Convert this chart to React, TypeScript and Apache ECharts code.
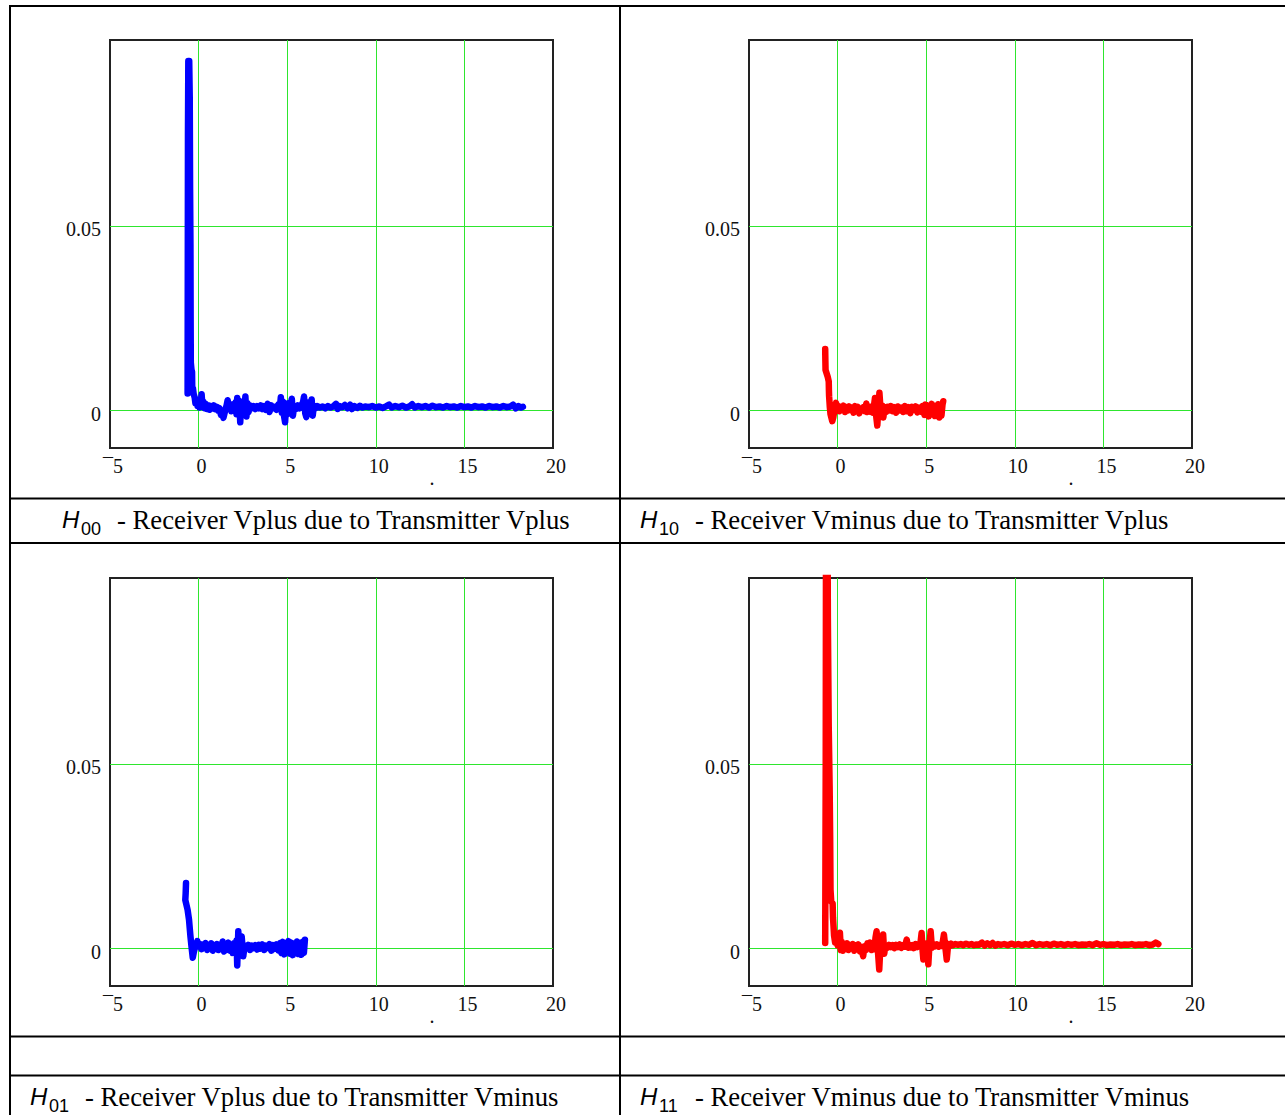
import React, { useEffect, useRef } from 'react';
import * as echarts from 'echarts';

// ---- data (time, amplitude) ----
const h00Points: number[][] = [
  [-0.62, 0.0046], [-0.61, 0.040], [-0.60, 0.075], [-0.58, 0.095], [-0.53, 0.095], [-0.50, 0.085],
  [-0.48, 0.060], [-0.46, 0.045], [-0.45, 0.025], [-0.44, 0.013], [-0.40, 0.011], [-0.37, 0.0105],
  [-0.36, 0.0065], [-0.32, 0.006], [-0.28, 0.0045], [-0.22, 0.0035], [-0.18, 0.0020], [-0.12, 0.0030],
  [-0.06, 0.0012], [0.00, 0.0020], [0.05, 0.0008], [0.12, 0.0018], [0.17, 0.0044], [0.22, 0.0010],
  [0.28, 0.0024], [0.34, 0.0006], [0.40, 0.0018], [0.47, 0.0004], [0.55, 0.0014], [0.62, 0.0002],
  [0.70, 0.0012], [0.78, 0.0006], [0.86, 0.0014], [0.94, 0.0004], [1.02, 0.0010], [1.10, 0.0000],
  [1.18, 0.0006], [1.26, -0.0012], [1.34, -0.0006], [1.40, -0.0020], [1.46, -0.0008], [1.52, 0.0004],
  [1.58, 0.0014], [1.64, 0.0028], [1.70, 0.0004], [1.76, 0.0018], [1.84, -0.0002], [1.92, 0.0016],
  [2.00, 0.0006], [2.08, 0.0022], [2.14, -0.0010], [2.18, 0.0034], [2.24, -0.0004], [2.30, 0.0026],
  [2.35, -0.0032], [2.40, 0.0020], [2.46, -0.0010], [2.52, 0.0016], [2.58, 0.0002], [2.64, 0.0038],
  [2.70, -0.0016], [2.76, 0.0020], [2.82, -0.0004], [2.90, 0.0014], [3.00, 0.0006], [3.10, 0.0012],
  [3.20, 0.0004], [3.30, 0.0012], [3.40, 0.0006], [3.50, 0.0014], [3.60, 0.0004], [3.70, 0.0012],
  [3.80, 0.0002], [3.90, 0.0018], [4.00, -0.0004], [4.10, 0.0014], [4.20, 0.0006], [4.30, 0.0010],
  [4.40, 0.0002], [4.50, 0.0016], [4.58, 0.0004], [4.64, 0.0036], [4.70, -0.0006], [4.76, 0.0024],
  [4.82, -0.0014], [4.88, -0.0032], [4.94, 0.0018], [5.00, -0.0010], [5.06, 0.0020], [5.12, -0.0004],
  [5.20, 0.0016], [5.26, 0.0032], [5.32, -0.0014], [5.40, 0.0012], [5.50, 0.0004], [5.60, 0.0014],
  [5.70, 0.0006], [5.80, 0.0012], [5.90, 0.0024], [5.95, 0.0038], [6.02, -0.0008], [6.08, -0.0018],
  [6.14, 0.0022], [6.20, -0.0004], [6.26, 0.0016], [6.32, 0.0002], [6.38, 0.0030], [6.44, -0.0014],
  [6.50, 0.0012], [6.60, 0.0006], [6.70, 0.0012], [6.85, 0.0008], [7.00, 0.0011], [7.15, 0.0006],
  [7.30, 0.0012], [7.45, 0.0008], [7.60, 0.0011], [7.75, 0.0018], [7.85, 0.0004], [7.95, 0.0012],
  [8.10, 0.0009], [8.25, 0.0015], [8.40, 0.0006], [8.55, 0.0016], [8.65, 0.0004], [8.80, 0.0012],
  [8.95, 0.0007], [9.10, 0.0013], [9.25, 0.0008], [9.40, 0.0011], [9.60, 0.0009], [9.80, 0.0012],
  [10.00, 0.0008], [10.20, 0.0011], [10.40, 0.0007], [10.60, 0.0012], [10.75, 0.0016], [10.90, 0.0008],
  [11.10, 0.0012], [11.30, 0.0009], [11.50, 0.0013], [11.70, 0.0008], [11.90, 0.0011], [12.05, 0.0017],
  [12.20, 0.0008], [12.40, 0.0012], [12.60, 0.0009], [12.80, 0.0012], [13.00, 0.0008], [13.20, 0.0013],
  [13.40, 0.0009], [13.60, 0.0011], [13.80, 0.0008], [14.00, 0.0012], [14.20, 0.0009], [14.40, 0.0011],
  [14.60, 0.0008], [14.80, 0.0012], [15.00, 0.0009], [15.20, 0.0011], [15.40, 0.0008], [15.60, 0.0012],
  [15.80, 0.0009], [16.00, 0.0011], [16.20, 0.0008], [16.40, 0.0012], [16.60, 0.0009], [16.80, 0.0011],
  [17.00, 0.0008], [17.20, 0.0012], [17.40, 0.0009], [17.60, 0.0011], [17.75, 0.0016], [17.90, 0.0006],
  [18.05, 0.0012], [18.20, 0.0008], [18.30, 0.0010],
];

const h10Points: number[][] = [
  [-0.70, 0.0167], [-0.69, 0.0135], [-0.68, 0.0110], [-0.56, 0.0092], [-0.50, 0.0079], [-0.49, 0.0055],
  [-0.48, 0.0039], [-0.44, 0.0010], [-0.40, -0.0010], [-0.30, -0.0029], [-0.24, -0.0018], [-0.15, 0.0010],
  [-0.09, 0.0021], [-0.02, 0.0004], [0.04, 0.0012], [0.10, -0.0002], [0.18, 0.0010], [0.26, 0.0002],
  [0.34, 0.0013], [0.42, -0.0004], [0.50, 0.0009], [0.58, 0.0000], [0.66, 0.0011], [0.74, 0.0002],
  [0.82, 0.0007], [0.90, -0.0006], [0.98, 0.0012], [1.06, -0.0002], [1.14, 0.0010], [1.22, -0.0008],
  [1.30, 0.0006], [1.38, 0.0001], [1.46, 0.0009], [1.54, -0.0002], [1.62, 0.0019], [1.68, -0.0004],
  [1.76, 0.0008], [1.84, -0.0003], [1.92, 0.0011], [2.00, -0.0006], [2.06, 0.0016], [2.11, 0.0034],
  [2.17, -0.0012], [2.24, -0.0041], [2.30, 0.0006], [2.36, 0.0048], [2.44, -0.0008], [2.52, 0.0014],
  [2.58, -0.0019], [2.66, 0.0008], [2.74, -0.0004], [2.82, 0.0010], [2.90, 0.0000], [3.00, 0.0012],
  [3.10, -0.0002], [3.20, 0.0009], [3.30, -0.0006], [3.40, 0.0011], [3.50, 0.0000], [3.60, 0.0008],
  [3.70, -0.0004], [3.80, 0.0012], [3.90, -0.0002], [4.00, 0.0009], [4.10, -0.0007], [4.20, 0.0010],
  [4.30, 0.0002], [4.40, 0.0011], [4.50, -0.0005], [4.60, 0.0008], [4.70, -0.0003], [4.80, 0.0012],
  [4.90, -0.0012], [4.96, 0.0016], [5.02, -0.0008], [5.08, 0.0014], [5.14, -0.0016], [5.20, 0.0010],
  [5.26, -0.0004], [5.32, 0.0018], [5.38, -0.0011], [5.44, 0.0008], [5.50, -0.0015], [5.56, 0.0012],
  [5.62, -0.0006], [5.68, 0.0017], [5.74, -0.0019], [5.80, 0.0014], [5.86, -0.0014], [5.92, 0.0016],
  [5.96, 0.0025],
];

const h01Points: number[][] = [
  [-0.71, 0.0178], [-0.73, 0.0150], [-0.75, 0.0132], [-0.62, 0.0105], [-0.54, 0.0078], [-0.50, 0.0055],
  [-0.46, 0.0033], [-0.40, 0.0005], [-0.33, -0.0025], [-0.27, -0.0010], [-0.20, 0.0003], [-0.12, 0.0012],
  [-0.07, 0.0020], [0.00, 0.0006], [0.08, 0.0012], [0.16, -0.0002], [0.24, 0.0011], [0.32, 0.0003],
  [0.40, 0.0015], [0.48, -0.0004], [0.56, 0.0008], [0.64, 0.0002], [0.72, 0.0014], [0.80, -0.0006],
  [0.88, 0.0010], [0.96, 0.0001], [1.04, 0.0012], [1.12, -0.0004], [1.20, 0.0009], [1.28, 0.0000],
  [1.36, 0.0019], [1.44, -0.0008], [1.52, 0.0011], [1.60, -0.0003], [1.68, 0.0016], [1.76, -0.0006],
  [1.84, 0.0010], [1.92, -0.0012], [2.00, 0.0014], [2.08, -0.0005], [2.14, 0.0022], [2.18, -0.0046],
  [2.24, 0.0047], [2.30, -0.0010], [2.36, 0.0018], [2.43, 0.0033], [2.52, -0.0021], [2.60, 0.0008],
  [2.70, 0.0002], [2.80, 0.0010], [2.90, -0.0004], [3.00, 0.0008], [3.10, 0.0001], [3.20, 0.0009],
  [3.30, -0.0003], [3.40, 0.0010], [3.50, 0.0000], [3.60, 0.0011], [3.70, -0.0004], [3.80, 0.0008],
  [3.90, 0.0002], [4.00, 0.0012], [4.10, -0.0006], [4.20, 0.0009], [4.30, -0.0001], [4.40, 0.0011],
  [4.50, -0.0005], [4.60, 0.0015], [4.68, -0.0012], [4.76, 0.0018], [4.84, -0.0016], [4.92, 0.0012],
  [5.00, -0.0008], [5.08, 0.0020], [5.16, -0.0014], [5.24, 0.0016], [5.32, -0.0018], [5.40, 0.0013],
  [5.48, -0.0010], [5.56, 0.0019], [5.64, -0.0015], [5.72, 0.0014], [5.80, -0.0017], [5.88, 0.0018],
  [5.94, -0.0012], [6.00, 0.0024],
];

const h11Points: number[][] = [
  [-0.70, 0.0015], [-0.67, 0.0500], [-0.65, 0.1300], [-0.58, 0.1300], [-0.55, 0.0900], [-0.50, 0.0600],
  [-0.45, 0.0440], [-0.42, 0.0300], [-0.40, 0.0160], [-0.36, 0.0128], [-0.28, 0.0122], [-0.26, 0.0085],
  [-0.23, 0.0060], [-0.20, 0.0035], [-0.14, 0.0016], [-0.06, 0.0025], [0.00, 0.0008], [0.08, 0.0014],
  [0.13, 0.0043], [0.18, -0.0004], [0.24, 0.0018], [0.30, -0.0006], [0.38, 0.0012], [0.46, 0.0002],
  [0.54, 0.0014], [0.62, -0.0004], [0.70, 0.0010], [0.78, 0.0002], [0.86, 0.0012], [0.94, -0.0006],
  [1.02, 0.0009], [1.10, 0.0000], [1.18, 0.0011], [1.26, -0.0008], [1.34, 0.0004], [1.44, -0.0021],
  [1.52, 0.0006], [1.60, -0.0004], [1.68, 0.0014], [1.76, 0.0002], [1.84, 0.0016], [1.92, -0.0004],
  [2.00, 0.0012], [2.08, -0.0002], [2.14, 0.0030], [2.20, 0.0047], [2.28, -0.0010], [2.35, -0.0057],
  [2.42, 0.0010], [2.50, -0.0006], [2.57, 0.0038], [2.63, -0.0014], [2.70, 0.0008], [2.80, 0.0002],
  [2.90, 0.0010], [3.00, 0.0004], [3.10, 0.0009], [3.20, 0.0001], [3.30, 0.0010], [3.40, 0.0004],
  [3.50, 0.0011], [3.60, 0.0002], [3.70, 0.0009], [3.80, 0.0005], [3.90, 0.0024], [3.98, 0.0002],
  [4.06, 0.0010], [4.14, 0.0003], [4.22, 0.0009], [4.30, 0.0001], [4.40, 0.0012], [4.50, 0.0004],
  [4.60, 0.0010], [4.68, 0.0016], [4.74, 0.0042], [4.80, -0.0008], [4.84, -0.0030], [4.92, 0.0012],
  [5.00, -0.0006], [5.06, 0.0014], [5.12, -0.0043], [5.18, 0.0008], [5.25, 0.0047], [5.32, 0.0002],
  [5.40, 0.0012], [5.50, 0.0006], [5.60, 0.0011], [5.70, 0.0005], [5.80, 0.0010], [5.90, 0.0007],
  [6.00, 0.0038], [6.08, 0.0004], [6.16, -0.0030], [6.24, 0.0012], [6.30, 0.0006], [6.40, 0.0013],
  [6.50, 0.0009], [6.65, 0.0012], [6.80, 0.0010], [6.95, 0.0012], [7.10, 0.0009], [7.25, 0.0013],
  [7.40, 0.0010], [7.55, 0.0012], [7.70, 0.0009], [7.85, 0.0011], [8.00, 0.0010], [8.15, 0.0016],
  [8.30, 0.0008], [8.45, 0.0014], [8.60, 0.0009], [8.75, 0.0015], [8.90, 0.0008], [9.05, 0.0012],
  [9.20, 0.0010], [9.40, 0.0012], [9.60, 0.0009], [9.80, 0.0013], [10.00, 0.0010], [10.20, 0.0012],
  [10.40, 0.0009], [10.60, 0.0012], [10.80, 0.0010], [11.00, 0.0015], [11.20, 0.0009], [11.40, 0.0012],
  [11.60, 0.0010], [11.80, 0.0012], [12.00, 0.0009], [12.20, 0.0013], [12.40, 0.0010], [12.60, 0.0012],
  [12.80, 0.0009], [13.00, 0.0012], [13.20, 0.0010], [13.40, 0.0012], [13.60, 0.0009], [13.80, 0.0011],
  [14.00, 0.0010], [14.20, 0.0012], [14.40, 0.0009], [14.60, 0.0014], [14.80, 0.0010], [15.00, 0.0012],
  [15.20, 0.0009], [15.40, 0.0011], [15.60, 0.0010], [15.80, 0.0012], [16.00, 0.0009], [16.20, 0.0011],
  [16.40, 0.0010], [16.60, 0.0012], [16.80, 0.0009], [17.00, 0.0011], [17.20, 0.0010], [17.40, 0.0012],
  [17.60, 0.0009], [17.80, 0.0011], [17.95, 0.0016], [18.10, 0.0012],
];

const xMin = -5;
const xMax = 20;
const xStep = 5;
const yMin = -0.01019;
const yMax = 0.100679;
const yTickValues = [0, 0.05];

const captionSubs = ['00', '10', '01', '11'];
const captionTexts = [
  '- Receiver Vplus due to Transmitter Vplus',
  '- Receiver Vminus due to Transmitter Vplus',
  '- Receiver Vplus due to Transmitter Vminus',
  '- Receiver Vminus due to Transmitter Vminus',
];
const seriesData = [h00Points, h10Points, h01Points, h11Points];
const seriesColors = ['#0000ff', '#ff0000', '#0000ff', '#ff0000'];

// ---- layout ----
const W = 1285;
const H = 1115;
const plotW = 443;
const plotH = 408;
const panelPos = [
  { left: 110, top: 40, capX: 62, capY: 520 },
  { left: 749, top: 40, capX: 640, capY: 520 },
  { left: 110, top: 578, capX: 30, capY: 1097 },
  { left: 749, top: 578, capX: 640, capY: 1097 },
];
const GREEN = '#2ee62e';
const SERIF = '"Liberation Serif", "Times New Roman", serif';
const SANS = '"Liberation Sans", Arial, sans-serif';

function buildOption() {
  const grid = panelPos.map((p) => ({
    left: p.left,
    top: p.top,
    width: plotW,
    height: plotH,
    show: true,
    borderColor: '#222',
    borderWidth: 2,
    backgroundColor: '#fff',
    containLabel: false,
    outerBoundsMode: 'none',
    z: 0,
  }));

  const xAxis = panelPos.map((_, i) => ({
    type: 'value',
    gridIndex: i,
    min: xMin,
    max: xMax,
    interval: xStep,
    axisLine: { show: false },
    axisTick: { show: false },
    splitLine: { show: true, showMinLine: false, showMaxLine: false, lineStyle: { color: GREEN, width: 1 } },
    axisLabel: {
      fontFamily: SERIF,
      fontSize: 20,
      color: '#111',
      margin: 8,
      padding: [0, 0, 0, 6],
      formatter: (v: number) => (v < 0 ? '\u00AF' + Math.abs(v) : String(v)),
    },
  }));

  const yAxis = panelPos.map((_, i) => ({
    type: 'value',
    gridIndex: i,
    min: yMin,
    max: yMax,
    axisLine: { show: false },
    axisTick: { show: false, customValues: yTickValues },
    splitLine: { show: false },
    axisLabel: {
      customValues: yTickValues,
      fontFamily: SERIF,
      fontSize: 20,
      color: '#111',
      margin: 9,
      verticalAlign: 'top',
      lineHeight: 6,
      formatter: (v: number) => String(v),
    },
  }));

  const series = seriesData.map((d, i) => ({
    type: 'line',
    xAxisIndex: i,
    yAxisIndex: i,
    data: d,
    showSymbol: false,
    clip: true,
    lineStyle: { color: seriesColors[i], width: 6.5, cap: 'round', join: 'round' },
    z: 3,
    markLine: {
      silent: true,
      symbol: ['none', 'none'],
      z: 1,
      label: { show: false },
      lineStyle: { color: GREEN, width: 1, type: 'solid' },
      emphasis: { disabled: true },
      data: yTickValues.map((v) => ({ yAxis: v })),
    },
  }));

  const lineStyle = { stroke: '#000', lineWidth: 2 };
  const hLines = [6, 498.5, 543, 1036.5, 1075.5].map((y) => ({
    type: 'line',
    shape: { x1: 9, y1: y, x2: W, y2: y },
    style: lineStyle,
    z: 10,
  }));
  const vLines = [10, 620].map((x) => ({
    type: 'line',
    shape: { x1: x, y1: 5, x2: x, y2: H },
    style: lineStyle,
    z: 10,
  }));

  const captions: any[] = [];
  panelPos.forEach((p, i) => {
    captions.push({
      type: 'text',
      x: p.capX,
      y: p.capY - 0.5,
      z: 10,
      style: { text: 'H', fontFamily: SANS, fontStyle: 'italic', fontSize: 24, fill: '#000', verticalAlign: 'middle', align: 'left' },
    });
    captions.push({
      type: 'text',
      x: p.capX + 19,
      y: p.capY + 9,
      z: 10,
      style: { text: captionSubs[i], fontFamily: SANS, fontSize: 18, fill: '#000', verticalAlign: 'middle', align: 'left' },
    });
    captions.push({
      type: 'text',
      x: p.capX + 55,
      y: p.capY,
      z: 10,
      style: { text: captionTexts[i], fontFamily: SERIF, fontSize: 26.7, fill: '#000', verticalAlign: 'middle', align: 'left' },
    });
    captions.push({
      type: 'text',
      x: p.left + 322,
      y: p.top + plotH + 30,
      z: 10,
      style: { text: '.', fontFamily: SERIF, fontSize: 20, fill: '#111', verticalAlign: 'middle', align: 'center' },
    });
  });

  return {
    animation: false,
    backgroundColor: '#fff',
    grid,
    xAxis,
    yAxis,
    series,
    graphic: [...hLines, ...vLines, ...captions],
  };
}

export default function App() {
  const ref = useRef<HTMLDivElement>(null);
  useEffect(() => {
    if (!ref.current) return;
    const chart = echarts.init(ref.current, null, { renderer: 'svg', width: W, height: H });
    chart.setOption(buildOption() as any);
    return () => chart.dispose();
  }, []);
  return (
    <div
      ref={ref}
      style={{ position: 'fixed', left: 0, top: 0, width: W, height: H, background: '#fff' }}
    />
  );
}
